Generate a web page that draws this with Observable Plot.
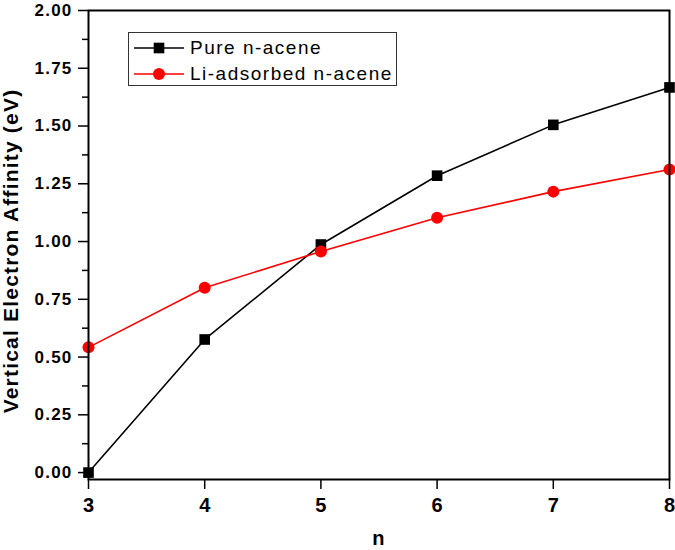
<!DOCTYPE html>
<html>
<head>
<meta charset="utf-8">
<script src="https://cdn.jsdelivr.net/npm/d3@7"></script>
<script src="https://cdn.jsdelivr.net/npm/@observablehq/plot@0.6"></script>
<style>
  html, body { margin: 0; padding: 0; background: #fff; }
  #wrap { position: relative; width: 675px; height: 550px; overflow: hidden; }
  #wrap svg { font-family: "Liberation Sans", Arial, sans-serif; }
  g[aria-label="y-axis tick label"] text { letter-spacing: 1.2px; }
  g[aria-label="text"] text { letter-spacing: 1.2px; }
  #legend { position: absolute; left: 128px; top: 32px; width: 269px; height: 54px;
    border: 1px solid #333; box-sizing: border-box; background: #fff; }
  #legend svg { position: absolute; left: 0; top: 0; }
  #legend .row { position: absolute; left: 61px; font: 19px "Liberation Sans", Arial, sans-serif;
    letter-spacing: 1.5px; color: #000; line-height: 19px; white-space: nowrap; }
</style>
</head>
<body>
<div id="wrap">
  <div id="chart"></div>
  <div id="legend"></div>
</div>
<script>
const nValues = [3, 4, 5, 6, 7, 8];
const pureAcene = [0.00, 0.576, 0.987, 1.285, 1.505, 1.667];
const liAdsorbed = [0.542, 0.800, 0.957, 1.103, 1.216, 1.312];
const seriesNames = ["Pure n-acene", "Li-adsorbed n-acene"];
const seriesColors = ["#000000", "#ff0000"];
const seriesSymbols = ["square", "circle"];
const xTicks = [3, 4, 5, 6, 7, 8];
const yTicks = [0, 0.25, 0.5, 0.75, 1.0, 1.25, 1.5, 1.75, 2.0];
const yMinorTicks = [0.125, 0.375, 0.625, 0.875, 1.125, 1.375, 1.625, 1.875];
const xLabel = "n";
const yLabel = "Vertical Electron Affinity (eV)";

const pure = nValues.map((n, i) => ({n, v: pureAcene[i]}));
const li = nValues.map((n, i) => ({n, v: liAdsorbed[i]}));

const chart = Plot.plot({
  width: 675,
  height: 550,
  marginLeft: 88,
  marginRight: 6,
  marginTop: 10,
  marginBottom: 71,
  style: {fontFamily: "Liberation Sans, Arial, sans-serif", background: "#fff", overflow: "visible"},
  x: {domain: [3, 8]},
  y: {domain: [-0.03, 2.0]},
  marks: [
    Plot.axisY({ticks: yMinorTicks, tickSize: 6, text: null, label: null, strokeWidth: 1.5}),
    Plot.axisY({ticks: yTicks, tickSize: 10, tickPadding: 6, tickFormat: d3.format(".2f"),
      fontSize: 17, fontWeight: "bold", label: null, strokeWidth: 1.5}),
    Plot.axisX({ticks: xTicks, tickSize: 10, tickPadding: 8, tickFormat: d3.format("d"),
      fontSize: 20, fontWeight: "bold", label: null, strokeWidth: 1.5}),
    Plot.line(pure, {x: "n", y: "v", stroke: seriesColors[0], strokeWidth: 1.6}),
    Plot.line(li, {x: "n", y: "v", stroke: seriesColors[1], strokeWidth: 1.6}),
    Plot.dot(pure, {x: "n", y: "v", symbol: seriesSymbols[0], r: 6, fill: seriesColors[0], stroke: "none"}),
    Plot.dot(li, {x: "n", y: "v", symbol: seriesSymbols[1], r: 6, fill: seriesColors[1], stroke: "none"}),
    Plot.frame({stroke: "#000", strokeWidth: 2}),
    Plot.text([yLabel], {frameAnchor: "left", textAnchor: "middle", lineAnchor: "middle",
      rotate: -90, dx: -77, dy: 6, fontSize: 21, fontWeight: "bold", fill: "#000"}),
    Plot.text([xLabel], {frameAnchor: "bottom", dy: 51, fontSize: 20, fontWeight: "bold",
      fill: "#000", lineAnchor: "top"})
  ]
});
document.getElementById("chart").appendChild(chart);

// Legend
const legend = document.getElementById("legend");
const rowCenters = [15, 41];
const ns = "http://www.w3.org/2000/svg";
const lsvg = document.createElementNS(ns, "svg");
lsvg.setAttribute("width", 269);
lsvg.setAttribute("height", 54);
seriesNames.forEach((name, i) => {
  const y = rowCenters[i];
  const ln = document.createElementNS(ns, "line");
  ln.setAttribute("x1", 5); ln.setAttribute("x2", 55);
  ln.setAttribute("y1", y); ln.setAttribute("y2", y);
  ln.setAttribute("stroke", seriesColors[i]); ln.setAttribute("stroke-width", 1.6);
  lsvg.appendChild(ln);
  const sym = seriesSymbols[i] === "square" ? d3.symbolSquare : d3.symbolCircle;
  const p = document.createElementNS(ns, "path");
  p.setAttribute("d", d3.symbol(sym, 36 * Math.PI)());
  p.setAttribute("transform", `translate(30,${y})`);
  p.setAttribute("fill", seriesColors[i]);
  lsvg.appendChild(p);
  const row = document.createElement("div");
  row.className = "row";
  row.style.top = (y - 10) + "px";
  row.textContent = name;
  legend.appendChild(row);
});
legend.appendChild(lsvg);
</script>
</body>
</html>
